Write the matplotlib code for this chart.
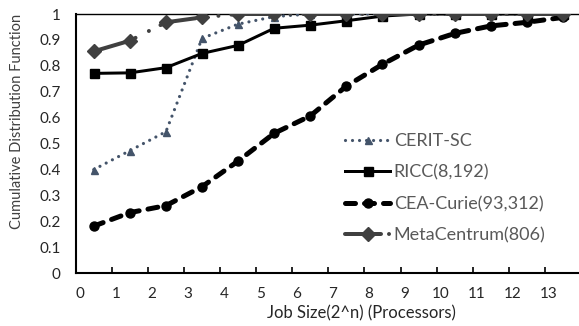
import numpy as np
import matplotlib
matplotlib.use("Agg")
from matplotlib import pyplot as plt
from matplotlib import transforms

plt.rcParams['font.family'] = ['Lato', 'DejaVu Sans']
plt.rcParams['lines.scale_dashes'] = False

# job size bins, log2(processors)
job_size = [0.5, 1.5, 2.5, 3.5, 4.5, 5.5, 6.5, 7.5, 8.5, 9.5, 10.5, 11.5, 12.5, 13.5]

cerit_sc = [0.40, 0.473, 0.546, 0.906, 0.961, 0.99, 1.0, 1.0, 1.0, 1.0, 1.0, 1.0, 1.0, 1.0]
ricc = [0.771, 0.773, 0.793, 0.848, 0.879, 0.945, 0.957, 0.974, 0.992, 1.0, 1.0, 1.0, 1.0, 1.0]
cea_curie = [0.182, 0.234, 0.261, 0.334, 0.433, 0.54, 0.607, 0.722, 0.806, 0.88, 0.925, 0.954, 0.968, 0.987]
metacentrum = [0.856, 0.897, 0.968, 0.987, 1.0, 1.0, 1.0, 1.0, 1.0, 1.0, 1.0, 1.0, 1.0, 1.0]

W, H = 579, 326
fig = plt.figure(figsize=(W / 100, H / 100), dpi=100)
x0, x1, y0, y1 = 75.7, 581.0, 14.0, 273.3
ax = fig.add_axes([x0 / W, 1 - y1 / H, (x1 - x0) / W, (y1 - y0) / H])

px = 72 / 100  # pixels -> points

ax.plot(job_size, cerit_sc, color='#44546A', lw=3.2 * px, linestyle=(0, (0.01, 7 * px)),
        dash_capstyle='round', marker='^', markersize=7 * px, label='CERIT-SC', zorder=3)
ax.plot(job_size, ricc, color='black', lw=3 * px, marker='s', markersize=9 * px,
        label='RICC(8,192)', zorder=4)
ax.plot(job_size, cea_curie, color='black', lw=5 * px, linestyle=(0, (10 * px, 9 * px)),
        dash_capstyle='round', marker='o', markersize=9 * px, label='CEA-Curie(93,312)', zorder=5)
ax.plot(job_size, metacentrum, color='#404040', lw=4 * px,
        linestyle=(0, (36 * px, 8 * px, 0.01, 15 * px, 0.01, 13 * px)),
        dash_capstyle='round', marker='D', markersize=10 * px, label='MetaCentrum(806)', zorder=6)

ax.set_xlim(0, 14)
ax.set_ylim(0, 1)
ax.set_xticks(range(14))
ax.set_yticks(np.arange(0, 1.01, 0.1))
ax.set_yticklabels(['0'] + ['%.1f' % v for v in np.arange(0.1, 0.95, 0.1)] + ['1'])

for s in ['left', 'bottom', 'top']:
    ax.spines[s].set_color('black')
ax.spines['left'].set_linewidth(1.5)
ax.spines['bottom'].set_linewidth(1.5)
ax.spines['top'].set_linewidth(1.0)
ax.spines['right'].set_visible(False)

tick_color = '#262626'
ax.tick_params(axis='x', direction='in', length=4, width=1.2, pad=10,
               labelsize=11, labelcolor=tick_color)
ax.tick_params(axis='y', length=0, pad=11, labelsize=11, labelcolor=tick_color)
shift = transforms.ScaledTranslation(4 / 100, 0, fig.dpi_scale_trans)
for lbl in ax.get_xticklabels():
    lbl.set_transform(lbl.get_transform() + shift)

ax.set_xlabel('Job Size(2^n) (Processors)', fontsize=12, color='#262626')
ax.xaxis.set_label_coords((361.5 - x0) / (x1 - x0), -(305 - y1) / (y1 - y0))
ax.set_ylabel('Cumulative Distribution Function', fontsize=10.5, color='#404040')
ax.yaxis.set_label_coords(-(x0 - 24) / (x1 - x0), (y1 - 121.7) / (y1 - y0))

leg = ax.legend(loc='upper left', bbox_to_anchor=((345 - x0) / (x1 - x0), (y1 - 133) / (y1 - y0)),
                frameon=False, fontsize=13, handlelength=2.5, handletextpad=0.2,
                labelspacing=0.85, borderpad=0, borderaxespad=0)
for t in leg.get_texts():
    t.set_color('#595959')

fig.savefig('out.png', dpi=100)
